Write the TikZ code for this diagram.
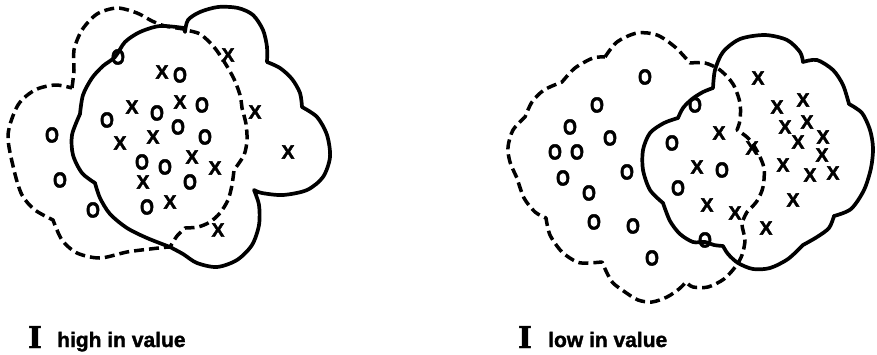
\documentclass[tikz,border=0pt]{standalone}
\usepackage{fontspec}
\setsansfont{Liberation Sans}
\newfontfamily\markfont{Liberation Sans}[BoldFeatures={FakeBold=2.2}]
\newfontfamily\labelfont{Liberation Sans}[BoldFeatures={FakeBold=1.6}]
\newfontfamily\slabfont{DejaVu Serif}[BoldFeatures={FakeBold=1.6}]
\newcommand\ringO{\scalebox{0.92}[1.12]{O}}
\tikzset{
  solidcurve/.style={line width=3.7pt, line join=round, line cap=round},
  dashcurve/.style={line width=3.5pt, dash pattern=on 10pt off 5pt, line join=round},
  mk/.style={inner sep=0pt, font=\fontsize{19.5}{19.5}\selectfont\markfont\bfseries},
  lbl/.style={inner sep=0pt, anchor=base west, font=\fontsize{21}{21}\selectfont\labelfont\bfseries},
  numeral/.style={inner sep=0pt, anchor=base, font=\fontsize{30}{30}\selectfont\slabfont\bfseries},
}
\begin{document}
\begin{tikzpicture}[x=1pt,y=-1pt]
\useasboundingbox (0,0) rectangle (877,354);

% ---------- left figure: dashed cloud ----------
\draw[dashcurve]
  plot[smooth] coordinates {(72,88) (74,70) (74,50) (82,30) (97,14) (117,8) (137,13) (152,21) (165,26) (184,29)}
  -- plot[smooth] coordinates {(185,30) (200,34) (214,47) (225,63) (234,79) (240,95) (242,108)}
  -- plot[smooth] coordinates {(242,108) (246,124) (247,140) (244,155) (234,170)}
  -- plot[smooth] coordinates {(234,170) (232,185) (228,200) (220,213) (210,222) (198,227) (185,228)}
  -- plot[smooth] coordinates {(185,228) (177,236) (170,247)}
  -- plot[smooth] coordinates {(168,247) (150,249) (127,252) (100,258) (77,253) (62,240) (53,220)}
  -- plot[smooth] coordinates {(53,220) (35,210) (22,195) (14,170) (8,135) (18,105) (35,90) (55,85) (72,88)}
  -- cycle;

% ---------- left figure: solid cloud ----------
\draw[solidcurve]
  plot[smooth] coordinates {(185,32) (188,20) (200,12) (218,7) (238,8) (253,15) (263,30) (267,47) (267,62)}
  -- plot[smooth] coordinates {(267,62) (280,68) (292,79) (300,93) (302,107)}
  -- plot[smooth] coordinates {(302,107) (317,117) (327,135) (330,157) (323,177) (307,190) (283,195) (262,193) (254,190)}
  -- plot[smooth] coordinates {(254,190) (259,205) (259,225) (252,245) (237,260) (217,267) (197,263) (183,254) (170,247)}
  -- plot[smooth] coordinates {(170,247) (147,238) (127,228) (110,214) (100,198) (95,183)}
  -- plot[smooth] coordinates {(95,183) (82,173) (73,155) (72,135) (80,114)}
  -- plot[smooth] coordinates {(80,114) (83,95) (92,78) (103,66) (115,57) (125,42) (140,32) (160,26) (184,28)}
  -- cycle;

% ---------- right figure: dashed cloud ----------
\draw[dashcurve]
  plot[smooth] coordinates {(605,57) (617,42) (637,33) (657,35) (675,47) (690,63)}
  -- plot[smooth] coordinates {(690,63) (705,63) (720,70) (733,84) (740,103) (740,120) (737,130)}
  -- plot[smooth] coordinates {(737,130) (748,138) (757,151) (764,168) (763,187) (757,201) (747,212)}
  -- plot[smooth] coordinates {(747,212) (742,224) (745,240) (742,255) (736,266) (724,279) (708,287) (693,287) (686,282)}
  -- plot[smooth] coordinates {(686,282) (679,289) (667,297) (652,302) (638,300) (625,292) (613,283) (607,273) (602,262)}
  -- plot[smooth] coordinates {(602,262) (588,263) (577,262) (562,252) (550,235) (546,218)}
  -- plot[smooth] coordinates {(546,218) (535,212) (524,198) (517,178)}
  -- plot[smooth] coordinates {(517,178) (510,162) (508,147) (513,130) (525,117)}
  -- plot[smooth] coordinates {(525,117) (532,102) (544,90) (562,82)}
  -- plot[smooth] coordinates {(562,82) (575,68) (593,58) (605,57)}
  -- cycle;

% ---------- right figure: solid cloud ----------
\draw[solidcurve]
  plot[smooth] coordinates {(713,88) (715,70) (723,52) (740,39) (765,35) (787,40) (800,52) (803,62)}
  -- plot[smooth] coordinates {(803,62) (817,60) (833,70) (843,85) (849,104)}
  -- plot[smooth] coordinates {(849,104) (862,113) (870,130) (873,148) (871,168) (864,190) (851,209) (834,216)}
  -- plot[smooth] coordinates {(834,216) (829,228) (817,237) (803,245)}
  -- plot[smooth] coordinates {(803,245) (788,259) (770,268) (753,269) (738,263) (728,254) (723,246)}
  -- plot[smooth] coordinates {(723,246) (714,245) (705,242) (693,242) (680,234) (670,221) (663,203)}
  -- plot[smooth] coordinates {(663,203) (650,190) (643,170) (643,150) (650,133) (664,123) (678,118)}
  -- plot[smooth] coordinates {(678,118) (683,108) (692,99) (703,92) (713,88)}
  -- cycle;

% ---------- marks ----------
\foreach \n/\x/\y in {1/118/57, 2/180/75, 3/52/135, 4/107/120, 5/157/113, 6/202/105,
  7/178/127, 8/205/137, 9/60/180, 10/142/162, 11/165/167, 12/190/182, 13/93/210, 14/147/207}
  \node[mk] (lo\n) at (\x,\y) {\ringO};
\foreach \n/\x/\y in {1/162/72, 2/228/55, 3/132/107, 4/180/102, 5/255/112, 6/120/143,
  7/153/137, 8/288/152, 9/192/157, 10/215/168, 11/143/182, 12/170/202, 13/218/230}
  \node[mk] (lx\n) at (\x,\y) {X};
\foreach \n/\x/\y in {1/645/77, 2/597/105, 3/570/127, 4/610/138, 5/555/152, 6/577/152,
  7/627/172, 8/563/178, 9/589/193, 10/594/222, 11/633/226, 12/652/258, 13/672/143,
  14/678/188, 15/695/105, 16/722/170, 17/705/240}
  \node[mk] (ro\n) at (\x,\y) {\ringO};
\foreach \n/\x/\y in {1/758/78, 2/777/107, 3/803/100, 4/785/127, 5/807/122, 6/798/142,
  7/823/137, 8/822/155, 9/719/133, 10/752/148, 11/783/165, 12/810/175, 13/833/173,
  14/697/167, 15/707/205, 16/735/213, 17/793/200, 18/766/228}
  \node[mk] (rx\n) at (\x,\y) {X};

% ---------- labels ----------
\node[numeral] (numL) at (35,348) {I};
\node[lbl] (txtL) at (57,347) {high in value};
\node[numeral] (numR) at (525,348) {I};
\node[lbl] (txtR) at (548,347) {low in value};
\end{tikzpicture}
\end{document}
